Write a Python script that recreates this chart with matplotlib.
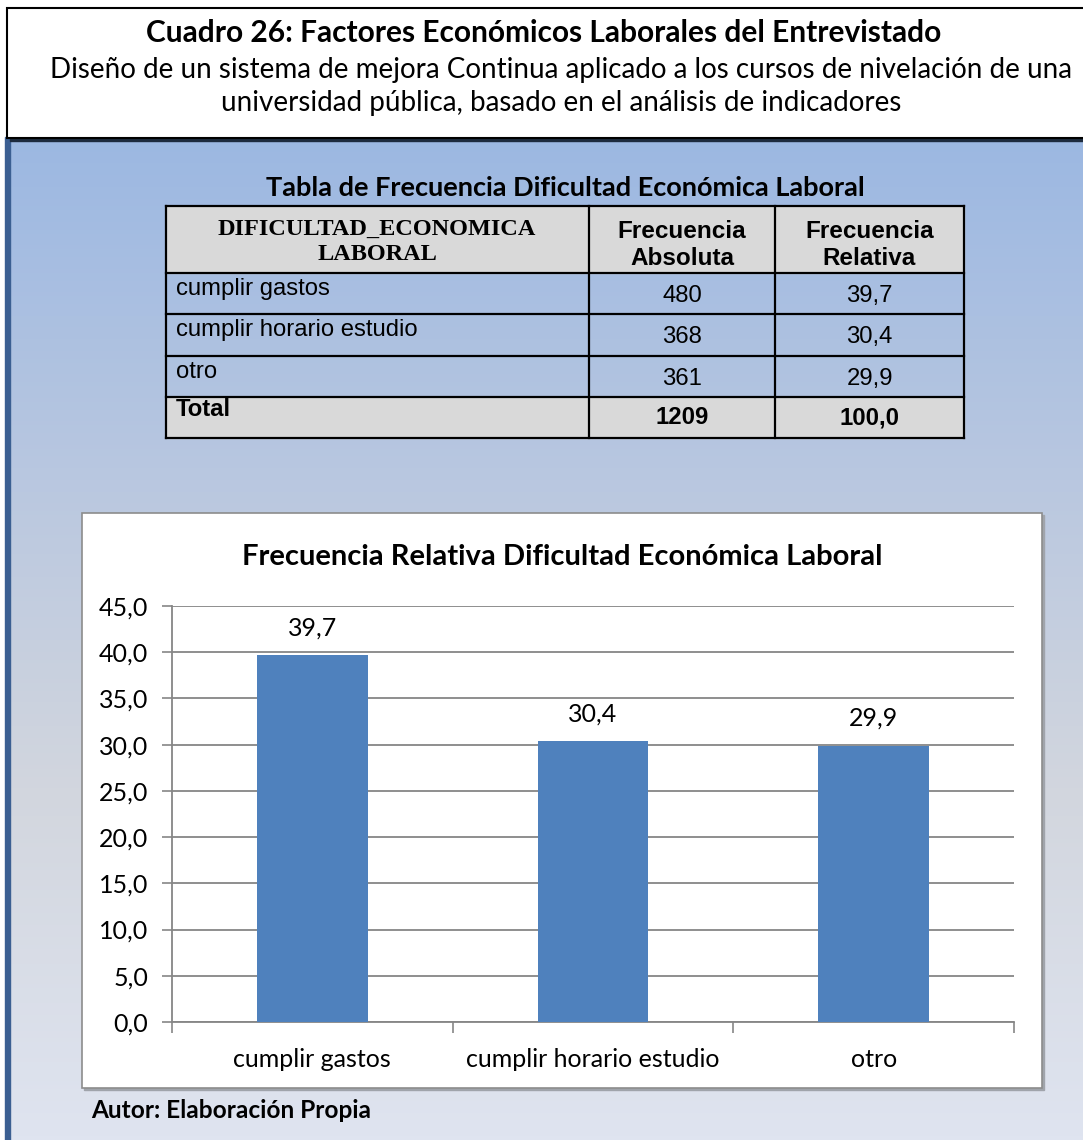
import numpy as np
import matplotlib
matplotlib.use("Agg")
import matplotlib.pyplot as plt
from matplotlib.patches import Rectangle
from matplotlib.colors import LinearSegmentedColormap

# frequency table data
categorias = ["cumplir gastos", "cumplir horario estudio", "otro"]
frec_absoluta = [480, 368, 361]
frec_relativa = [39.7, 30.4, 29.9]
total_absoluta = 1209
total_relativa = 100.0

titulo = "Cuadro 26: Factores Económicos Laborales del Entrevistado"
subtitulo = ["Diseño de un sistema de mejora Continua aplicado a los cursos de nivelación de una",
             "universidad pública, basado en el análisis de indicadores"]
titulo_tabla = "Tabla de Frecuencia Dificultad Económica Laboral"
titulo_grafico = "Frecuencia Relativa Dificultad Económica Laboral"
autor = "Autor: Elaboración Propia"

W, H = 1083, 1140
CAL = ["Lato", "DejaVu Sans"]
ARIAL = ["Liberation Sans", "DejaVu Sans"]
TIMES = ["Liberation Serif", "DejaVu Serif"]


def coma(v):
    return f"{v:.1f}".replace(".", ",")


fig = plt.figure(figsize=(W / 100, H / 100), dpi=100)
fig.patch.set_facecolor("white")

# page layer in pixel coordinates
bg = fig.add_axes([0, 0, 1, 1])
bg.set_xlim(0, W)
bg.set_ylim(H, 0)
bg.axis("off")

grad = LinearSegmentedColormap.from_list(
    "panel", [(0.0, "#9cb8e2"), (0.35, "#bac8e0"), (0.65, "#d2d6de"), (1.0, "#dfe4f0")])
bg.imshow(np.linspace(0, 1, 256).reshape(-1, 1), cmap=grad, aspect="auto",
          extent=[10, W, H, 140], zorder=0)
bg.add_patch(Rectangle((5, 137), 5, H - 137, color="#3b5f92", zorder=1))
bg.add_patch(Rectangle((10, 138), W - 10, 3, color="#1d2b3e", zorder=1))

# header box
bg.add_patch(Rectangle((7, 8), W, 130, facecolor="white", edgecolor="black", lw=1.5, zorder=2))
bg.text(W / 2 + 2, 33, titulo, ha="center", va="center", fontsize=21.5,
        fontweight="bold", family=CAL, zorder=3)
for i, linea in enumerate(subtitulo):
    bg.text(W / 2 + 20, 70 + i * 33, linea, ha="center", va="center", fontsize=20,
            family=CAL, zorder=3)

# frequency table
bg.text(565, 188, titulo_tabla, ha="center", va="center", fontsize=19.5,
        fontweight="bold", family=CAL)
xs = [166, 589, 775, 964]
ys = [206, 273, 314, 356, 397, 438]
gris = "#d9d9d9"
bg.add_patch(Rectangle((xs[0], ys[0]), xs[3] - xs[0], ys[1] - ys[0], color=gris, zorder=2))
bg.add_patch(Rectangle((xs[0], ys[4]), xs[3] - xs[0], ys[5] - ys[4], color=gris, zorder=2))
for y in ys:
    bg.plot([xs[0], xs[3]], [y, y], color="black", lw=1.6, zorder=3)
for x in xs:
    bg.plot([x, x], [ys[0], ys[5]], color="black", lw=1.6, zorder=3)

bg.text(377, 242, "DIFICULTAD_ECONOMICA\nLABORAL", ha="center", va="center",
        fontsize=17.5, fontweight="bold", family=TIMES, linespacing=1.25, zorder=4)
bg.text((xs[1] + xs[2]) / 2, 245, "Frecuencia\nAbsoluta", ha="center", va="center",
        fontsize=17.5, fontweight="bold", family=ARIAL, linespacing=1.25, zorder=4)
bg.text((xs[2] + xs[3]) / 2, 245, "Frecuencia\nRelativa", ha="center", va="center",
        fontsize=17.5, fontweight="bold", family=ARIAL, linespacing=1.25, zorder=4)
for i, (cat, fa, fr) in enumerate(zip(categorias, frec_absoluta, frec_relativa)):
    y0 = ys[i + 1]
    bg.text(xs[0] + 10, y0 + 16, cat, ha="left", va="center", fontsize=17.2,
            family=ARIAL, zorder=4)
    bg.text((xs[1] + xs[2]) / 2, y0 + 23, str(fa), ha="center", va="center",
            fontsize=17.2, family=ARIAL, zorder=4)
    bg.text((xs[2] + xs[3]) / 2, y0 + 23, coma(fr), ha="center", va="center",
            fontsize=17.2, family=ARIAL, zorder=4)
bg.text(xs[0] + 10, ys[4] + 13, "Total", ha="left", va="center", fontsize=17.2,
        fontweight="bold", family=ARIAL, zorder=4)
bg.text((xs[1] + xs[2]) / 2, ys[4] + 21, str(total_absoluta), ha="center", va="center",
        fontsize=17.2, fontweight="bold", family=ARIAL, zorder=4)
bg.text((xs[2] + xs[3]) / 2, ys[4] + 21, coma(total_relativa), ha="center", va="center",
        fontsize=17.2, fontweight="bold", family=ARIAL, zorder=4)

# chart frame with shadow
bg.add_patch(Rectangle((84, 515), 960, 575, color="#a0a4ab", zorder=2))
bg.add_patch(Rectangle((82, 513), 960, 575, facecolor="white", edgecolor="#8c8c8c",
                       lw=1.2, zorder=3))
bg.text(562, 557, titulo_grafico, ha="center", va="center", fontsize=21,
        fontweight="bold", family=CAL, zorder=4)
bg.text(91, 1110, autor, ha="left", va="center", fontsize=17.6, fontweight="bold",
        family=CAL, zorder=4)

# bar chart
L, R, T, B = 172, 1014, 606, 1022
ax = fig.add_axes([L / W, 1 - B / H, (R - L) / W, (B - T) / H], zorder=5)
ax.patch.set_alpha(0)
pos = np.arange(len(categorias))
barras = ax.bar(pos, frec_relativa, width=0.395, color="#4f81bd", zorder=3)
for b, v in zip(barras, frec_relativa):
    ax.text(b.get_x() + b.get_width() / 2, v + 1.7, coma(v), ha="center", va="bottom",
            fontsize=18, family=CAL)
ax.set_xlim(-0.5, len(categorias) - 0.5)
ax.set_ylim(0, 45)
ax.set_yticks(np.arange(0, 46, 5))
ax.set_yticklabels([coma(v) for v in np.arange(0, 46, 5)], family=CAL, fontsize=18)
ax.yaxis.grid(True, color="#868686", lw=1.3, zorder=1)
ax.set_xticks(pos)
ax.set_xticklabels(categorias, family=CAL, fontsize=18)
ax.set_xticks(np.arange(-0.5, len(categorias)), minor=True)
ax.tick_params(axis="x", which="major", length=0, pad=19)
ax.tick_params(axis="x", which="minor", length=8, width=1.2, color="#868686", direction="out")
ax.tick_params(axis="y", length=7, width=1.2, color="#868686", pad=10)
for s in ["top", "right"]:
    ax.spines[s].set_visible(False)
for s in ["left", "bottom"]:
    ax.spines[s].set_color("#868686")
    ax.spines[s].set_linewidth(1.3)

fig.savefig("out.png", dpi=100)
